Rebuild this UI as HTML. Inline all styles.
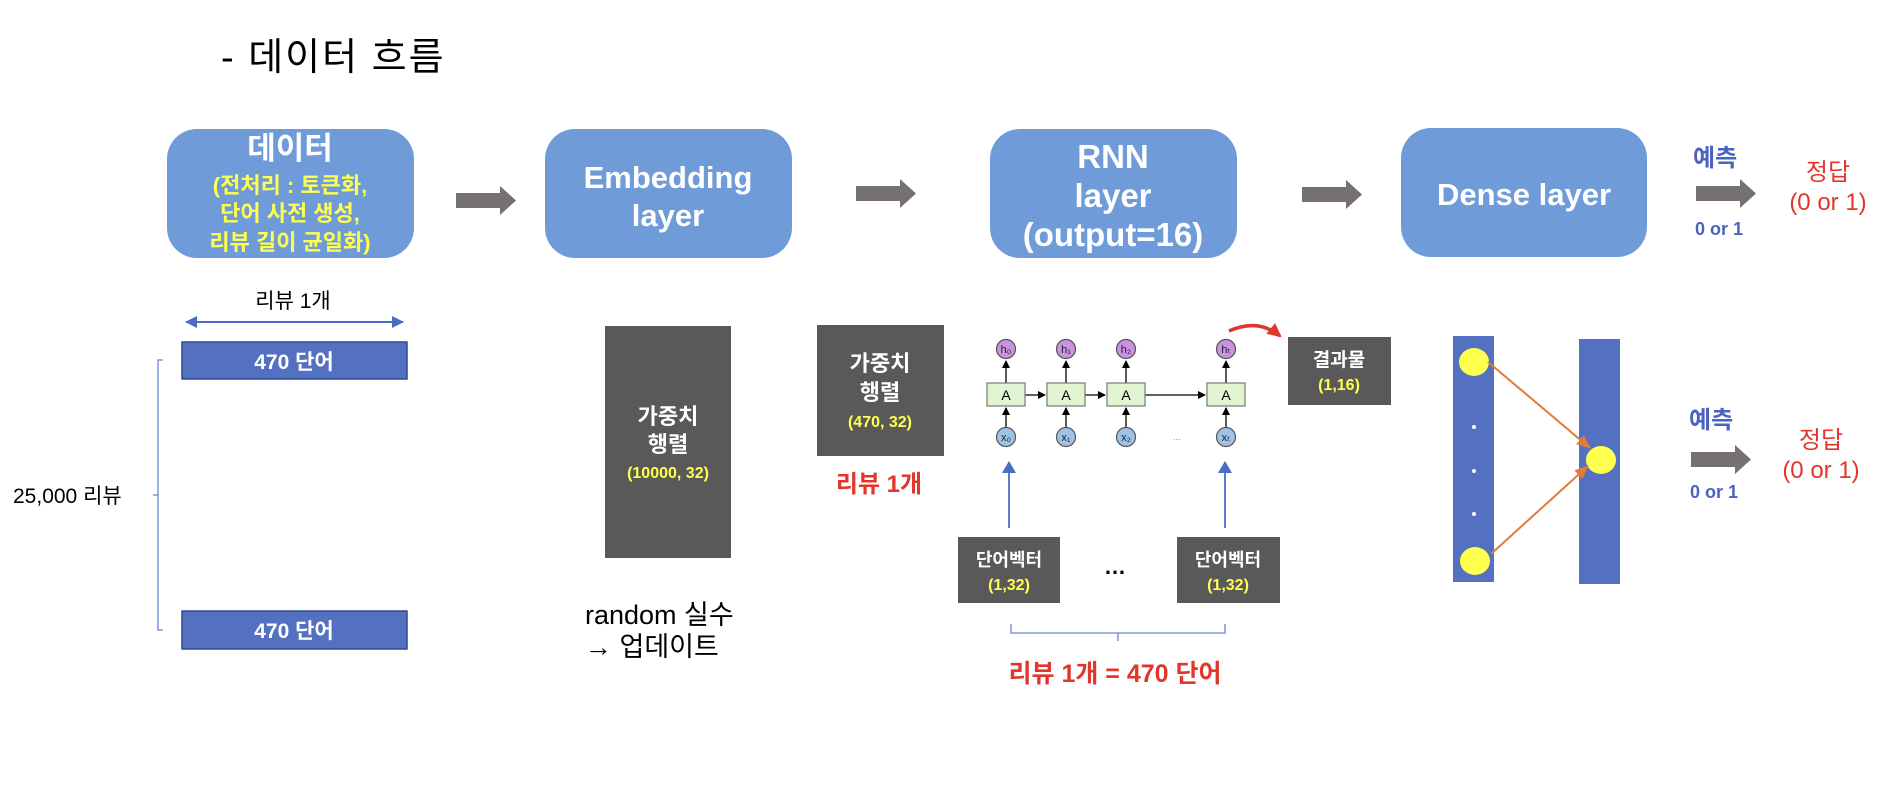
<!DOCTYPE html>
<html><head><meta charset="utf-8"><style>
html,body{margin:0;padding:0;background:#fff;}
svg{display:block;font-family:"Liberation Sans","Noto Sans CJK KR",sans-serif;}
</style></head><body>
<svg width="1884" height="793" viewBox="0 0 1884 793" xmlns="http://www.w3.org/2000/svg">
<defs>
<marker id="ab" markerWidth="8" markerHeight="8" refX="7" refY="4" orient="auto" markerUnits="userSpaceOnUse"><path d="M0,0 L8,4 L0,8 z" fill="#000"/></marker>
<marker id="ao" markerWidth="14" markerHeight="12" refX="13" refY="6" orient="auto" markerUnits="userSpaceOnUse"><path d="M0,0 L14,6 L0,12 z" fill="#e07b39"/></marker>
<marker id="abl" markerWidth="12" markerHeight="14" refX="11" refY="7" orient="auto" markerUnits="userSpaceOnUse"><path d="M0,0 L12,7 L0,14 z" fill="#4a6cc4"/></marker>
<marker id="dbl" markerWidth="12" markerHeight="12" refX="11" refY="6" orient="auto-start-reverse" markerUnits="userSpaceOnUse"><path d="M0,0 L12,6 L0,12 z" fill="#4a6cc4"/></marker>
<marker id="ar" markerWidth="14" markerHeight="14" refX="12" refY="7" orient="auto" markerUnits="userSpaceOnUse"><path d="M0,0 L14,7 L0,14 z" fill="#e0362c"/></marker>
<g id="garrow"><path d="M0,7 H44 V0 L60,14.5 L44,29 V22 H0 z" fill="#767171"/></g>
</defs>

<text x="221" y="70" font-size="38" fill="#000" letter-spacing="2">- 데이터 흐름</text>

<rect x="167" y="129" width="247" height="129" rx="30" fill="#6f9bd8"/>
<text x="290" y="159" font-size="31" font-weight="bold" fill="#fff" text-anchor="middle">데이터</text>
<g font-size="22" font-weight="bold" fill="#ffff4d" text-anchor="middle">
<text x="290" y="193">(전처리 : 토큰화,</text>
<text x="290" y="221">단어 사전 생성,</text>
<text x="290" y="250">리뷰 길이 균일화)</text>
</g>
<use href="#garrow" x="456" y="186"/>

<rect x="545" y="129" width="247" height="129" rx="30" fill="#6f9bd8"/>
<g font-size="31" font-weight="bold" fill="#fff" text-anchor="middle">
<text x="668" y="188">Embedding</text>
<text x="668" y="226">layer</text>
</g>
<use href="#garrow" x="856" y="179"/>

<rect x="990" y="129" width="247" height="129" rx="30" fill="#6f9bd8"/>
<g font-size="33" font-weight="bold" fill="#fff" text-anchor="middle">
<text x="1113" y="168">RNN</text>
<text x="1113" y="207">layer</text>
<text x="1113" y="246">(output=16)</text>
</g>
<use href="#garrow" x="1302" y="180"/>

<rect x="1401" y="128" width="246" height="129" rx="30" fill="#6f9bd8"/>
<text x="1524" y="205" font-size="31" font-weight="bold" fill="#fff" text-anchor="middle">Dense layer</text>

<text x="1693" y="166" font-size="24" font-weight="bold" fill="#4a62c0">예측</text>
<use href="#garrow" x="1696" y="179"/>
<text x="1695" y="235" font-size="18" font-weight="bold" fill="#4a62c0">0 or 1</text>
<text x="1828" y="180" font-size="24" fill="#e0362c" text-anchor="middle">정답</text>
<text x="1828" y="210" font-size="24" fill="#e0362c" text-anchor="middle">(0 or 1)</text>

<text x="293" y="308" font-size="21" fill="#000" text-anchor="middle">리뷰 1개</text>
<line x1="186" y1="322" x2="403" y2="322" stroke="#4a6cc4" stroke-width="2" marker-start="url(#dbl)" marker-end="url(#dbl)"/>
<rect x="182" y="342" width="225" height="37" fill="#5470c0" stroke="#2f4b8f" stroke-width="1.5"/>
<text x="294" y="369" font-size="21" font-weight="bold" fill="#fff" text-anchor="middle">470 단어</text>
<rect x="182" y="611" width="225" height="38" fill="#5470c0" stroke="#2f4b8f" stroke-width="1.5"/>
<text x="294" y="638" font-size="21" font-weight="bold" fill="#fff" text-anchor="middle">470 단어</text>
<path d="M163,360 H158 V630 H163 M158,495 H153" fill="none" stroke="#6a85cf" stroke-width="1.3"/>
<text x="13" y="503" font-size="21" fill="#000">25,000 리뷰</text>

<rect x="605" y="326" width="126" height="232" fill="#595959"/>
<text x="668" y="424" font-size="22" font-weight="bold" fill="#fff" text-anchor="middle">가중치</text>
<text x="668" y="452" font-size="22" font-weight="bold" fill="#fff" text-anchor="middle">행렬</text>
<text x="668" y="478" font-size="16" font-weight="bold" fill="#ffff4d" text-anchor="middle">(10000, 32)</text>
<text x="585" y="624" font-size="27" fill="#000">random 실수</text>
<text x="585" y="656" font-size="27" fill="#000">→ 업데이트</text>

<rect x="817" y="325" width="127" height="131" fill="#595959"/>
<text x="880" y="371" font-size="22" font-weight="bold" fill="#fff" text-anchor="middle">가중치</text>
<text x="880" y="400" font-size="22" font-weight="bold" fill="#fff" text-anchor="middle">행렬</text>
<text x="880" y="427" font-size="16" font-weight="bold" fill="#ffff4d" text-anchor="middle">(470, 32)</text>
<text x="879" y="492" font-size="24" font-weight="bold" fill="#e0362c" text-anchor="middle">리뷰 1개</text>

<g stroke="#000" stroke-width="1.3" fill="none">
<line x1="1006" y1="427" x2="1006" y2="408" marker-end="url(#ab)"/>
<line x1="1066" y1="427" x2="1066" y2="408" marker-end="url(#ab)"/>
<line x1="1126" y1="427" x2="1126" y2="408" marker-end="url(#ab)"/>
<line x1="1226" y1="427" x2="1226" y2="408" marker-end="url(#ab)"/>
<line x1="1006" y1="383" x2="1006" y2="361" marker-end="url(#ab)"/>
<line x1="1066" y1="383" x2="1066" y2="361" marker-end="url(#ab)"/>
<line x1="1126" y1="383" x2="1126" y2="361" marker-end="url(#ab)"/>
<line x1="1226" y1="383" x2="1226" y2="361" marker-end="url(#ab)"/>
<line x1="1025" y1="395" x2="1045" y2="395" marker-end="url(#ab)"/>
<line x1="1085" y1="395" x2="1105" y2="395" marker-end="url(#ab)"/>
<line x1="1145" y1="395" x2="1205" y2="395" marker-end="url(#ab)"/>
</g>
<g fill="#e2f5d3" stroke="#777" stroke-width="1.2">
<rect x="987" y="383" width="38" height="23"/><rect x="1047" y="383" width="38" height="23"/>
<rect x="1107" y="383" width="38" height="23"/><rect x="1207" y="383" width="38" height="23"/>
</g>
<g font-size="14" fill="#000" text-anchor="middle">
<text x="1006" y="400">A</text><text x="1066" y="400">A</text><text x="1126" y="400">A</text><text x="1226" y="400">A</text>
</g>
<g fill="#c993e0" stroke="#555" stroke-width="1.2">
<circle cx="1006" cy="349" r="9.5"/><circle cx="1066" cy="349" r="9.5"/><circle cx="1126" cy="349" r="9.5"/><circle cx="1226" cy="349" r="9.5"/>
</g>
<g fill="#9fc3e6" stroke="#555" stroke-width="1.2">
<circle cx="1006" cy="437" r="9.5"/><circle cx="1066" cy="437" r="9.5"/><circle cx="1126" cy="437" r="9.5"/><circle cx="1226" cy="437" r="9.5"/>
</g>
<g font-size="11" fill="#222" text-anchor="middle">
<text x="1006" y="353">h₀</text><text x="1066" y="353">h₁</text><text x="1126" y="353">h₂</text><text x="1226" y="353">hₜ</text>
<text x="1006" y="441">x₀</text><text x="1066" y="441">x₁</text><text x="1126" y="441">x₂</text><text x="1226" y="441">xₜ</text>
</g>
<text x="1177" y="440" font-size="10" fill="#999" text-anchor="middle">...</text>
<path d="M1229,331 Q1258,318 1280,336" fill="none" stroke="#e0362c" stroke-width="3.5" marker-end="url(#ar)"/>

<rect x="1288" y="337" width="103" height="68" fill="#595959"/>
<text x="1339" y="366" font-size="19" font-weight="bold" fill="#fff" text-anchor="middle">결과물</text>
<text x="1339" y="390" font-size="16" font-weight="bold" fill="#ffff4d" text-anchor="middle">(1,16)</text>

<line x1="1009" y1="528" x2="1009" y2="462" stroke="#4a6cc4" stroke-width="1.8" marker-end="url(#abl)"/>
<line x1="1225" y1="528" x2="1225" y2="462" stroke="#4a6cc4" stroke-width="1.8" marker-end="url(#abl)"/>
<rect x="958" y="537" width="102" height="66" fill="#595959"/>
<text x="1009" y="566" font-size="18" font-weight="bold" fill="#fff" text-anchor="middle">단어벡터</text>
<text x="1009" y="590" font-size="16" font-weight="bold" fill="#ffff4d" text-anchor="middle">(1,32)</text>
<rect x="1177" y="537" width="103" height="66" fill="#595959"/>
<text x="1228" y="566" font-size="18" font-weight="bold" fill="#fff" text-anchor="middle">단어벡터</text>
<text x="1228" y="590" font-size="16" font-weight="bold" fill="#ffff4d" text-anchor="middle">(1,32)</text>
<text x="1115" y="574" font-size="22" font-weight="bold" fill="#000" text-anchor="middle">…</text>
<path d="M1011,624 V633 H1225 V624 M1118,633 V641" fill="none" stroke="#6a85cf" stroke-width="1.3"/>
<text x="1115" y="682" font-size="25" font-weight="bold" fill="#e0362c" text-anchor="middle">리뷰 1개 = 470 단어</text>

<rect x="1453" y="336" width="41" height="246" fill="#5470c0"/>
<rect x="1579" y="339" width="41" height="245" fill="#5470c0"/>
<ellipse cx="1474" cy="362" rx="15" ry="14" fill="#ffff4d"/>
<ellipse cx="1475" cy="561" rx="15" ry="14" fill="#ffff4d"/>
<ellipse cx="1601" cy="460" rx="15" ry="14" fill="#ffff4d"/>
<circle cx="1474" cy="427" r="2" fill="#fff"/><circle cx="1474" cy="471" r="2" fill="#fff"/><circle cx="1474" cy="514" r="2" fill="#fff"/>
<line x1="1488" y1="362" x2="1590" y2="448" stroke="#e07b39" stroke-width="2" marker-end="url(#ao)"/>
<line x1="1491" y1="554" x2="1588" y2="466" stroke="#e07b39" stroke-width="2" marker-end="url(#ao)"/>

<text x="1689" y="428" font-size="24" font-weight="bold" fill="#4a62c0">예측</text>
<use href="#garrow" x="1691" y="445"/>
<text x="1690" y="498" font-size="18" font-weight="bold" fill="#4a62c0">0 or 1</text>
<text x="1821" y="448" font-size="24" fill="#e0362c" text-anchor="middle">정답</text>
<text x="1821" y="478" font-size="24" fill="#e0362c" text-anchor="middle">(0 or 1)</text>
</svg>
</body></html>
